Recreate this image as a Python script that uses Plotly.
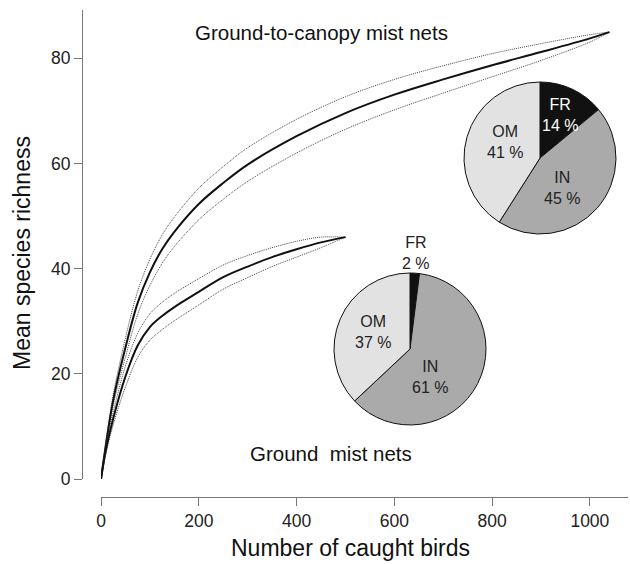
import plotly.graph_objects as go

# Rarefaction curves: mean species richness vs. number of caught birds
canopy_x = [0, 10, 25, 50, 75, 100, 125, 150, 200, 250, 300, 400, 500, 600, 700, 800, 900, 1000, 1040]
canopy_mean = [0, 6.5, 15, 25, 33.5, 39.3, 43.7, 47, 52.3, 56.3, 59.8, 65.2, 69.6, 73.1, 76, 78.7, 81.2, 83.8, 85]
canopy_upper = [0, 7.1, 16, 26.8, 35.7, 41.8, 46.4, 49.8, 55.3, 59.4, 63, 68.4, 72.7, 76, 78.6, 80.9, 82.8, 84.5, 85]
canopy_lower = [0, 5.9, 14, 23.2, 31.3, 36.8, 41, 44.2, 49.3, 53.2, 56.6, 62, 66.5, 70.2, 73.4, 76.5, 79.6, 83.1, 85]

ground_x = [0, 10, 25, 50, 75, 100, 125, 150, 200, 250, 300, 350, 400, 450, 500]
ground_mean = [0, 5.5, 11.5, 19.5, 25.4, 28.9, 31, 32.7, 35.6, 38.4, 40.4, 42.2, 43.7, 45, 46]
ground_upper = [0, 6.2, 12.7, 21.5, 27.7, 31.4, 33.6, 35.3, 38.1, 40.7, 42.5, 44, 45.2, 46, 46]
ground_lower = [0, 4.8, 10.3, 17.5, 23.1, 26.4, 28.4, 30.1, 33.1, 36.1, 38.3, 40.4, 42.2, 44, 46]

# Feeding guild composition
guilds = ["FR", "IN", "OM"]
canopy_share = [14, 45, 41]
ground_share = [2, 61, 37]
guild_colors = ["#111111", "#aaaaaa", "#e2e2e2"]

x_ticks = [0, 200, 400, 600, 800, 1000]
y_ticks = [0, 20, 40, 60, 80]

W, H = 630, 564
FONT = "Liberation Sans, Arial, sans-serif"


def px(x):
    return x / W


def py(y):
    return (H - y) / H


fig = go.Figure()

for xs, lo, hi, mean in [
    (canopy_x, canopy_lower, canopy_upper, canopy_mean),
    (ground_x, ground_lower, ground_upper, ground_mean),
]:
    for band in (lo, hi):
        fig.add_trace(go.Scatter(
            x=xs, y=band, mode="lines",
            line=dict(color="#444444", width=1, dash="1px,1px", shape="spline", smoothing=1.0),
            hoverinfo="skip", showlegend=False,
        ))
    fig.add_trace(go.Scatter(
        x=xs, y=mean, mode="lines",
        line=dict(color="#111111", width=2, shape="spline", smoothing=1.0),
        showlegend=False,
    ))

# Guild pies
for share, dom in [
    (canopy_share, dict(x=[px(464), px(616)], y=[py(234), py(82)])),
    (ground_share, dict(x=[px(334), px(486)], y=[py(425), py(273)])),
]:
    fig.add_trace(go.Pie(
        labels=guilds, values=share, sort=False, direction="clockwise",
        rotation=0, textinfo="none", hoverinfo="label+percent",
        marker=dict(colors=guild_colors, line=dict(color="#111111", width=1)),
        domain=dom, showlegend=False,
    ))

annotations = []


def label(x, y, text, size=16, color="#222222"):
    annotations.append(dict(
        x=px(x), y=py(y), xref="paper", yref="paper", text=text,
        showarrow=False, xanchor="center", yanchor="middle",
        font=dict(family=FONT, size=size, color=color),
    ))


# Pie labels
label(560, 115, "FR<br>14 %", color="#ffffff")
label(505, 142, "OM<br>41 %")
label(562, 188, "IN<br>45 %")
label(416, 253, "FR<br>2 %")
label(373, 332, "OM<br>37 %")
label(430, 377, "IN<br>61 %")

# Curve labels
label(321, 33, "Ground-to-canopy mist nets", size=20.5, color="#111111")
label(331, 453, "Ground&nbsp;&nbsp;mist nets", size=20.5, color="#111111")

# Axis titles
label(350, 548, "Number of caught birds", size=23, color="#111111")
annotations.append(dict(
    x=px(22), y=py(253), xref="paper", yref="paper", text="Mean species richness",
    showarrow=False, textangle=-90, xanchor="center", yanchor="middle",
    font=dict(family=FONT, size=23, color="#111111"),
))

axis_common = dict(
    showgrid=False, zeroline=False, showline=True, linecolor="#777777", linewidth=1,
    ticks="outside", ticklen=8, tickcolor="#777777", tickwidth=1,
    tickfont=dict(family=FONT, size=17.5, color="#222222"),
)

fig.update_layout(
    width=W, height=H,
    margin=dict(l=0, r=0, t=0, b=0, autoexpand=False),
    paper_bgcolor="white", plot_bgcolor="white",
    xaxis=dict(
        domain=[px(101), px(628)], range=[0, 1078], tickvals=x_ticks,
        anchor="free", position=py(497), **axis_common,
    ),
    yaxis=dict(
        domain=[py(479), py(10)], range=[0, 89.2], tickvals=y_ticks,
        anchor="free", position=px(82), **axis_common,
    ),
    annotations=annotations,
    font=dict(family=FONT),
)

fig.write_html("out.html")
